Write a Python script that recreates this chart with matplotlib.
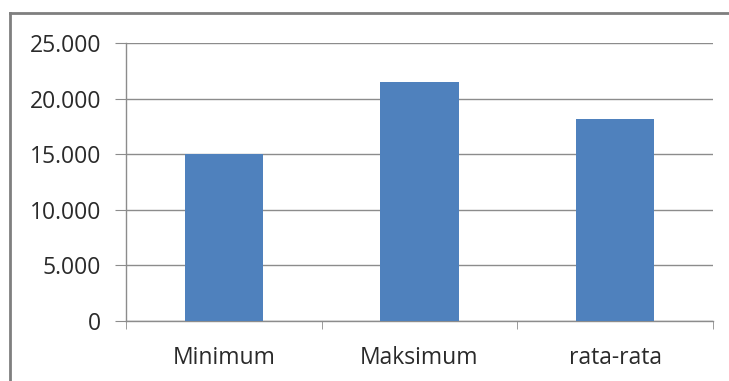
import matplotlib
matplotlib.use('Agg')
import matplotlib.pyplot as plt
from matplotlib.ticker import FuncFormatter, FixedLocator
from matplotlib.lines import Line2D

categories = ['Minimum', 'Maksimum', 'rata-rata']
values = [15000, 21500, 18200]
y_ticks = [0, 5000, 10000, 15000, 20000, 25000]

plt.rcParams['font.family'] = ['Open Sans', 'DejaVu Sans']

W, H = 729, 381
fig = plt.figure(figsize=(W / 100, H / 100), dpi=100)
ax = fig.add_axes([126 / W, (H - 321) / H, (713 - 126) / W, (321 - 43) / H])

x = range(len(categories))
ax.bar(x, values, width=0.4, color='#4F81BD', zorder=3)

ax.set_xlim(-0.5, len(categories) - 0.5)
ax.set_ylim(0, 25000)
ax.yaxis.set_major_locator(FixedLocator(y_ticks))
ax.yaxis.set_major_formatter(FuncFormatter(lambda v, p: f'{int(v):,}'.replace(',', '.')))
ax.set_xticks(list(x))
ax.set_xticklabels(categories)
ax.set_xticks([i - 0.5 for i in range(len(categories) + 1)], minor=True)

grid_c = '#8c8c8c'
ax.grid(axis='y', color=grid_c, linewidth=1, zorder=0)
for s in ['top', 'right']:
    ax.spines[s].set_visible(False)
for s in ['left', 'bottom']:
    ax.spines[s].set_color(grid_c)
    ax.spines[s].set_linewidth(1)

ax.tick_params(axis='y', length=8, color=grid_c, labelsize=16.5, labelcolor='#2a2a2a', pad=10)
ax.tick_params(axis='x', which='major', length=0, labelsize=16.5, labelcolor='#2a2a2a', pad=18)
ax.tick_params(axis='x', which='minor', length=6, color=grid_c)

# outer chart frame
fig.add_artist(Line2D([10 / W, 1], [1 - 13 / H, 1 - 13 / H], color='#7f7f7f', linewidth=2))
fig.add_artist(Line2D([10 / W, 10 / W], [0, 1 - 13 / H], color='#7f7f7f', linewidth=2))

fig.savefig('out.png', dpi=100)
